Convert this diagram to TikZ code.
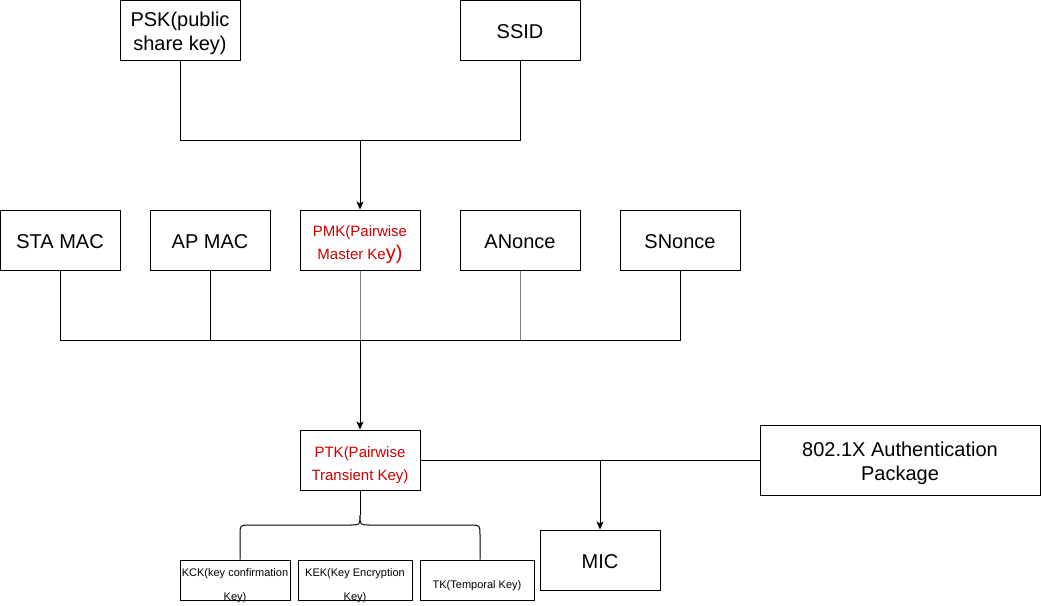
\documentclass[tikz,border=0pt]{standalone}
\usepackage{fontspec}
\setmainfont{Liberation Sans}
\usetikzlibrary{arrows.meta}
\definecolor{keyred}{HTML}{CC0000}
\definecolor{lgray}{HTML}{808080}
\begin{document}
\begin{tikzpicture}[x=1pt,y=-1pt,
  box/.style={draw,line width=1pt,inner sep=0pt},
  std/.style={box,minimum width=120pt,minimum height=60pt},
  small/.style={box,minimum height=40pt},
  big/.style={inner sep=0pt,align=center,font=\fontsize{20}{24}\selectfont},
  red/.style={inner sep=0pt,align=center,text=keyred,font=\fontsize{15}{23}\selectfont},
  tiny/.style={inner sep=0pt,align=center,font=\fontsize{11}{24}\selectfont},
  line/.style={line width=1pt},
  grayline/.style={line width=1pt,draw=lgray},
  arr/.style={line width=1pt,-{Stealth[length=8pt,width=7pt,inset=2pt]}}]
\useasboundingbox (0,0) rectangle (1041,605);
\fill[white] (0,0) rectangle (1041,605);
% top row
\node[std,label={[big,yshift=-3.5pt]center:{PSK(public\\share key)}}] (psk) at (180,30) {};
\node[std,label={[big,yshift=-2pt]center:SSID}] (ssid) at (520,30) {};
% middle row
\node[std,label={[big,yshift=-2pt]center:STA MAC}] (sta) at (60,240) {};
\node[std,label={[big,yshift=-2pt]center:AP MAC}] (ap) at (210,240) {};
\node[std,label={[red,yshift=-5pt]center:{PMK(Pairwise\\Master Ke{\fontsize{20}{23}\selectfont y)}}}] (pmk) at (360,240) {};
\node[std,label={[big,yshift=-2pt]center:ANonce}] (ano) at (520,240) {};
\node[std,label={[big,yshift=-2pt]center:SNonce}] (sno) at (680,240) {};
% lower
\node[std,label={[red,yshift=-5pt]center:{PTK(Pairwise\\Transient Key)}}] (ptk) at (360,460) {};
\node[box,minimum width=280pt,minimum height=70pt,label={[big,yshift=-3pt]center:{802.1X Authentication\\Package}}] (auth) at (900,460) {};
\node[std,label={[big,yshift=-2pt]center:MIC}] (mic) at (600,560) {};
\node[small,minimum width=110pt,label={[tiny,yshift=-6pt]center:{KCK(key confirmation\\Key)}}] (kck) at (235,580) {};
\node[small,minimum width=114pt,label={[tiny,yshift=-6pt]center:{KEK(Key Encryption\\Key)}}] (kek) at (355,580) {};
\node[small,minimum width=114pt,label={[tiny,yshift=-6pt]center:TK(Temporal Key)}] (tk) at (477,580) {};
% junctions
\coordinate (j1) at (360,140);
\coordinate (j2) at (360,340);
\coordinate (j3) at (600,460);
\coordinate (bt) at (360,515);
% connectors
\draw[line] (psk.south) |- (ssid.south |- j1) -- (ssid.south);
\draw[arr] (j1) -- (pmk.north);
\draw[line] (sta.south) |- (sno.south |- j2) -- (sno.south);
\draw[line] (ap.south) -- (ap.south |- j2);
\draw[grayline] (pmk.south) -- (j2);
\draw[grayline] (ano.south) -- (ano.south |- j2);
\draw[arr] (j2) -- (ptk.north);
\draw[line] (ptk.east) -- (auth.west);
\draw[arr] (j3) -- (mic.north);
\draw[line] (ptk.south) -- (bt);
\draw[line] (kck.north -| 240,0) -- (240,535) .. controls (240,525) .. (250,525) -- (350,525)
  .. controls (360,525) .. (bt) .. controls (360,525) .. (370,525) -- (470,525)
  .. controls (480,525) .. (480,535) -- (tk.north -| 480,0);
\end{tikzpicture}
\end{document}
